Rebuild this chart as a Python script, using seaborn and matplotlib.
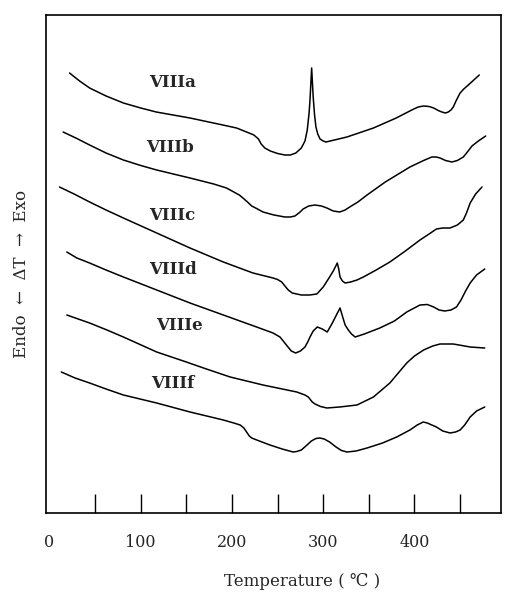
import matplotlib
matplotlib.use('Agg')
import matplotlib.pyplot as plt
import seaborn as sns
import numpy as np
import pandas as pd

# DTA curves, temperature in degC, signal in arbitrary units (offset per sample)
temp_a = [22, 33, 44, 62, 81, 100, 117, 154, 190, 205, 216, 224, 229, 232, 236, 242, 250,
          258, 264, 270, 276, 280, 282.5, 284.5, 285.5, 287.3, 289, 290.5, 292, 294, 296.5,
          300, 303, 326, 355, 380, 397, 404, 410, 416, 421, 426, 430, 434, 437, 440, 442.5,
          446, 450, 454, 459, 465, 471]
sig_a = [440, 432, 425, 417, 410, 405, 401, 395, 388, 385, 381, 378, 374, 369, 365, 362, 359.5,
         358, 358, 360, 365, 372, 383, 400, 413, 445, 416, 398, 386, 379, 374,
         372, 371, 376, 385, 395, 403, 406, 407, 406.5, 405, 402.5, 401, 400, 401, 403, 406,
         413, 420, 424, 428, 433, 438]

temp_b = [15, 30, 44, 62, 81, 100, 117.5, 154, 180, 194, 203, 208, 212, 217, 221.6, 228,
          234, 246, 258, 264, 269, 274, 278, 284, 291, 298, 304, 311, 318, 324, 329, 338,
          348, 368, 395, 410, 419, 424, 428, 434, 441, 447, 453.5, 458, 463, 470, 478]
sig_b = [381, 374.5, 368, 360, 353, 347.5, 343, 335, 329, 325, 320.5, 318, 315, 311, 307, 304,
         301, 298, 296, 296, 297, 300.5, 304, 307, 308, 307, 305, 302, 301, 303, 306, 311,
         318, 331, 346, 352.5, 356, 356, 355, 352.5, 351, 352.5, 356, 361, 367, 372, 377]

temp_c = [11, 27, 44, 62, 81, 117.5, 154, 190.5, 223, 245, 250, 254.5, 258, 261.7, 266,
          276, 285, 293, 300, 307, 311, 315.4, 317, 318.4, 321, 324, 330, 337, 344, 358,
          373, 390, 406, 416, 424, 431, 439, 447, 453.5, 457, 461, 467, 474]
sig_c = [326, 319, 311, 303, 295, 280, 265, 251, 240, 235, 233.5, 231, 227, 223, 220,
         218, 218, 219, 226, 236, 242, 250, 244, 236, 232, 230, 231, 233, 236, 243,
         251, 262, 273, 279, 284, 285, 285, 288, 293, 300, 310, 319, 326]

temp_d = [19, 30, 44, 62, 81, 117.5, 154, 190.5, 227, 245, 252.6, 257, 261.4, 265, 269.8,
          275, 280, 283, 285.5, 289, 293.5, 299, 304.4, 310, 315, 318.4, 321, 324, 327.5,
          331, 335, 345, 362, 378, 391.5, 406, 414, 421, 427, 433, 440, 446, 451, 456, 461,
          468, 477]
sig_d = [261, 255, 250, 243, 236, 223, 210, 198, 186, 180, 176, 171, 166, 162, 160,
         162, 166, 171, 176, 182, 186, 184, 181, 190, 199, 205, 197, 188, 183,
         179, 176, 179, 185, 192, 201, 208, 208.5, 206, 203, 202, 203, 206, 213, 222, 230,
         238, 244]

temp_e = [19, 44, 63, 81, 117.5, 150, 172, 198, 234, 271, 280, 283.6, 288, 291, 297, 304,
          318, 337, 355, 373, 391.5, 400, 410, 420, 428, 442.5, 455, 461, 477]
sig_e = [198, 190, 183, 176, 161, 151, 144, 136, 128, 121, 118, 116, 111, 109, 106.5, 105,
         106, 108, 116, 130, 150, 157, 163, 167, 169, 169, 167, 166, 165]

temp_f = [13, 28, 44, 62, 81, 117.5, 154, 190.5, 202, 209, 213, 216, 219, 221.6, 230, 241.6,
          255, 267, 271, 276, 281, 287, 292, 296.4, 301, 307, 314, 320, 326, 336, 348, 365,
          380.5, 395, 403, 409.6, 414, 419, 424, 431, 439, 445, 450, 455, 461, 468, 477]
sig_f = [141, 135, 130, 124, 118, 110, 101, 93, 90, 88, 85, 81, 77, 75, 72, 68,
         64, 61, 61.5, 63, 67, 72, 74.5, 75, 74, 71, 66, 62.5, 61, 62, 65, 70,
         76, 83, 88, 91, 90, 88, 86, 82, 80, 81, 83, 88, 96, 102, 106]

samples = ['VIIIa', 'VIIIb', 'VIIIc', 'VIIId', 'VIIIe', 'VIIIf']
label_temp = [135, 132, 134, 135, 142, 135]
label_sig = [431, 366, 298, 243, 187, 129]

curves = [(temp_a, sig_a), (temp_b, sig_b), (temp_c, sig_c),
          (temp_d, sig_d), (temp_e, sig_e), (temp_f, sig_f)]

rows = []
for name, (t, s) in zip(samples, curves):
    for ti, si in zip(t, s):
        rows.append({'sample': name, 'temp': ti, 'signal': si})
df = pd.DataFrame(rows)

sns.set_style('white')
plt.rcParams['font.family'] = ['DejaVu Serif', 'DejaVu Sans']

fig = plt.figure(figsize=(5.05, 5.92), dpi=100)
ax = fig.add_axes([46 / 505, 79 / 592, 455 / 505, 498 / 592])

sns.lineplot(data=df, x='temp', y='signal', units='sample', estimator=None,
             sort=False, color='black', linewidth=1.1, ax=ax)

for name, tx, sy in zip(samples, label_temp, label_sig):
    ax.text(tx, sy, name, ha='center', va='center', fontsize=12, fontweight='bold')

ax.set_xlim(-3.8, 494.8)
ax.set_ylim(0, 498)

# inward ticks every 50, labels every 100
ax.xaxis.remove_overlapping_locs = False
ax.set_xticks(np.arange(50, 451, 50))
ax.set_xticklabels([])
ax.tick_params(axis='x', which='major', bottom=True, direction='in', length=14,
               width=1.0, color='black')
ax.set_xticks(np.arange(0, 401, 100), minor=True)
ax.set_xticklabels([str(v) for v in range(0, 401, 100)], minor=True, fontsize=11.5)
ax.tick_params(axis='x', which='minor', bottom=True, length=0, pad=15)
ax.set_yticks([])
ax.set_xlabel('')
ax.set_ylabel('')

for sp in ax.spines.values():
    sp.set_visible(True)
    sp.set_color('black')
    sp.set_linewidth(1.2)

fig.text(302 / 505, 1 - 581 / 592, 'Temperature ( \u2103 )', ha='center', va='center', fontsize=12)
fig.text(22 / 505, 1 - 274 / 592, 'Endo  \u2190  \u0394T  \u2192  Exo', ha='center', va='center',
         rotation=90, fontsize=12)

fig.savefig('out.png', dpi=100)
